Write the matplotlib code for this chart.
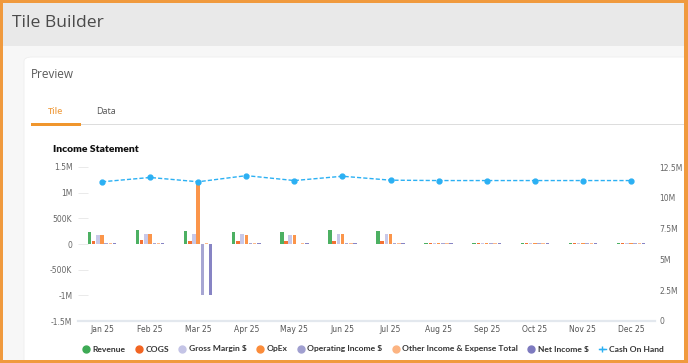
import numpy as np
import matplotlib
matplotlib.use("Agg")
import matplotlib.pyplot as plt
from matplotlib.patches import Rectangle, FancyBboxPatch
from matplotlib.lines import Line2D
from matplotlib.ticker import FuncFormatter

months = ["Jan 25", "Feb 25", "Mar 25", "Apr 25", "May 25", "Jun 25",
          "Jul 25", "Aug 25", "Sep 25", "Oct 25", "Nov 25", "Dec 25"]

revenue = [240000, 270000, 245000, 240000, 240000, 270000, 245000, 15000, 15000, 15000, 15000, 15000]
cogs = [55000, 70000, 55000, 55000, 55000, 65000, 55000, 15000, 15000, 15000, 15000, 15000]
gross_margin = [185000, 200000, 190000, 190000, 180000, 200000, 190000, 15000, 15000, 15000, 15000, 15000]
opex = [180000, 200000, 1200000, 180000, 180000, 200000, 190000, 15000, 15000, 15000, 15000, 15000]
operating_income = [12000, 12000, -1000000, 12000, 8000, 12000, 12000, 15000, 15000, 15000, 15000, 15000]
other_income = [15000, 15000, 15000, 12000, 12000, 15000, 12000, 15000, 15000, 15000, 15000, 15000]
net_income = [15000, 15000, -1000000, 15000, 10000, 15000, 15000, 15000, 15000, 15000, 15000, 15000]
cash_on_hand = [11300000, 11650000, 11300000, 11800000, 11400000, 11750000, 11430000,
                11400000, 11400000, 11400000, 11400000, 11400000]

series = [
    ("Revenue", revenue, "#3daa55"),
    ("COGS", cogs, "#f26522"),
    ("Gross Margin $", gross_margin, "#c4c4e6"),
    ("OpEx", opex, "#fb8c3a"),
    ("Operating Income $", operating_income, "#a09fd0"),
    ("Other Income & Expense Total", other_income, "#fcb482"),
    ("Net Income $", net_income, "#7d7abf"),
]
cash_color = "#2bb0f3"

W, H = 688, 363
fig = plt.figure(figsize=(W / 100, H / 100), dpi=100)
fig.patch.set_facecolor("#f7f7f7")


def px(x, y):
    return x / W, 1 - y / H


def rect(x, y, w, h, color, z=-1):
    fig.patches.append(Rectangle((x / W, 1 - (y + h) / H), w / W, h / H,
                                 transform=fig.transFigure, facecolor=color,
                                 edgecolor="none", zorder=z))


# page chrome (kept below the axes)
rect(0, 0, W, 46, "#e9e9e9", -2)
fig.patches.append(FancyBboxPatch((24 / W, -0.05), 1, 1 - 57 / H + 0.05,
                                  boxstyle="round,pad=0,rounding_size=0.012",
                                  transform=fig.transFigure, facecolor="white",
                                  edgecolor="#eeeeee", linewidth=0.6, zorder=-2))
fig.text(*px(12, 23), "Tile Builder", fontsize=12.6, family="Open Sans",
         color="#4a4a4a", va="center", ha="left")
fig.text(*px(31, 74), "Preview", fontsize=8.5, family="Open Sans",
         color="#5a5a5a", va="center", ha="left")
fig.text(*px(56, 111), "Tile", fontsize=6.5, family="Open Sans", weight="semibold",
         color="#f0a24a", va="center", ha="center")
fig.text(*px(106, 111), "Data", fontsize=6.5, family="Open Sans",
         color="#555555", va="center", ha="center")
rect(31, 124, W - 31, 1.2, "#dddddd", -1)
rect(31, 123, 50, 2.5, "#f0962d", -1)
fig.text(*px(53, 149), "Income Statement", fontsize=7.5, family="Lato",
         weight="heavy", color="#111111", va="center", ha="left")

# chart
ax = fig.add_axes([78 / W, 1 - 321 / H, (655 - 78) / W, (321 - 167) / H])
ax.set_facecolor("none")
ax.set_zorder(1)
x = np.arange(len(months))
n = len(series)
step = 0.087
width = 0.072
for i, (name, vals, col) in enumerate(series):
    ax.bar(x + (i - (n - 1) / 2) * step, vals, width, color=col, alpha=0.92,
           label=name, zorder=2)
ax.set_xlim(-0.5, len(months) - 0.5)
ax.set_ylim(-1.5e6, 1.5e6)
ax.set_yticks(np.arange(-1.5e6, 1.6e6, 5e5))


def fmt_left(v, _):
    if abs(v) >= 1e6:
        s = f"{v / 1e6:g}M"
    elif v == 0:
        s = "0"
    else:
        s = f"{v / 1e3:g}K"
    return s


ax.yaxis.set_major_formatter(FuncFormatter(fmt_left))
ax.set_xticks(x)
ax.set_xticklabels(months)
for s in ["top", "right", "left"]:
    ax.spines[s].set_visible(False)
ax.spines["bottom"].set_color("#e3e8ee")
ax.spines["bottom"].set_linewidth(1.6)
ax.tick_params(axis="y", direction="in", length=7, width=0.6, color="#e6e6e6",
               labelsize=5.5, labelcolor="#666666", pad=4)
ax.tick_params(axis="x", length=0, labelsize=5.5, labelcolor="#555555", pad=3)

ax2 = ax.twinx()
ax2.set_zorder(2)
ax2.plot(x, cash_on_hand, color=cash_color, linestyle=(0, (3, 1.5)), linewidth=1,
         marker="o", markersize=3.5, label="Cash On Hand", zorder=3)
ax2.set_ylim(0, 12.5e6)
ax2.set_yticks(np.arange(0, 12.6e6, 2.5e6))
ax2.yaxis.set_major_formatter(FuncFormatter(lambda v, _: "0" if v == 0 else f"{v / 1e6:g}M"))
for s in ["top", "right", "left", "bottom"]:
    ax2.spines[s].set_visible(False)
ax2.tick_params(axis="y", length=0, labelsize=5.5, labelcolor="#666666", pad=3)

# legend
handles = [Line2D([], [], linestyle="none", marker="o", markersize=5,
                  color=col, label=name) for name, _, col in series]
handles.append(Line2D([], [], color=cash_color, marker="+", markersize=4,
                      linewidth=1, label="Cash On Hand"))
leg = fig.legend(handles=handles, loc="center", bbox_to_anchor=(373 / W, 1 - 349 / H),
                 ncol=8, frameon=False, handlelength=0.8, handletextpad=0.4,
                 columnspacing=1.15, prop={"family": "Lato", "weight": "bold", "size": 6.1})
for t in leg.get_texts():
    t.set_color("#333333")

# orange frame
for (bx, by, bw, bh) in [(0, 0, W, 2.5), (0, H - 3, W, 3), (0, 0, 2.5, H), (W - 4, 0, 4, H)]:
    rect(bx, by, bw, bh, "#f09a3e", 10)

fig.savefig("out.png", dpi=100, facecolor=fig.get_facecolor())
